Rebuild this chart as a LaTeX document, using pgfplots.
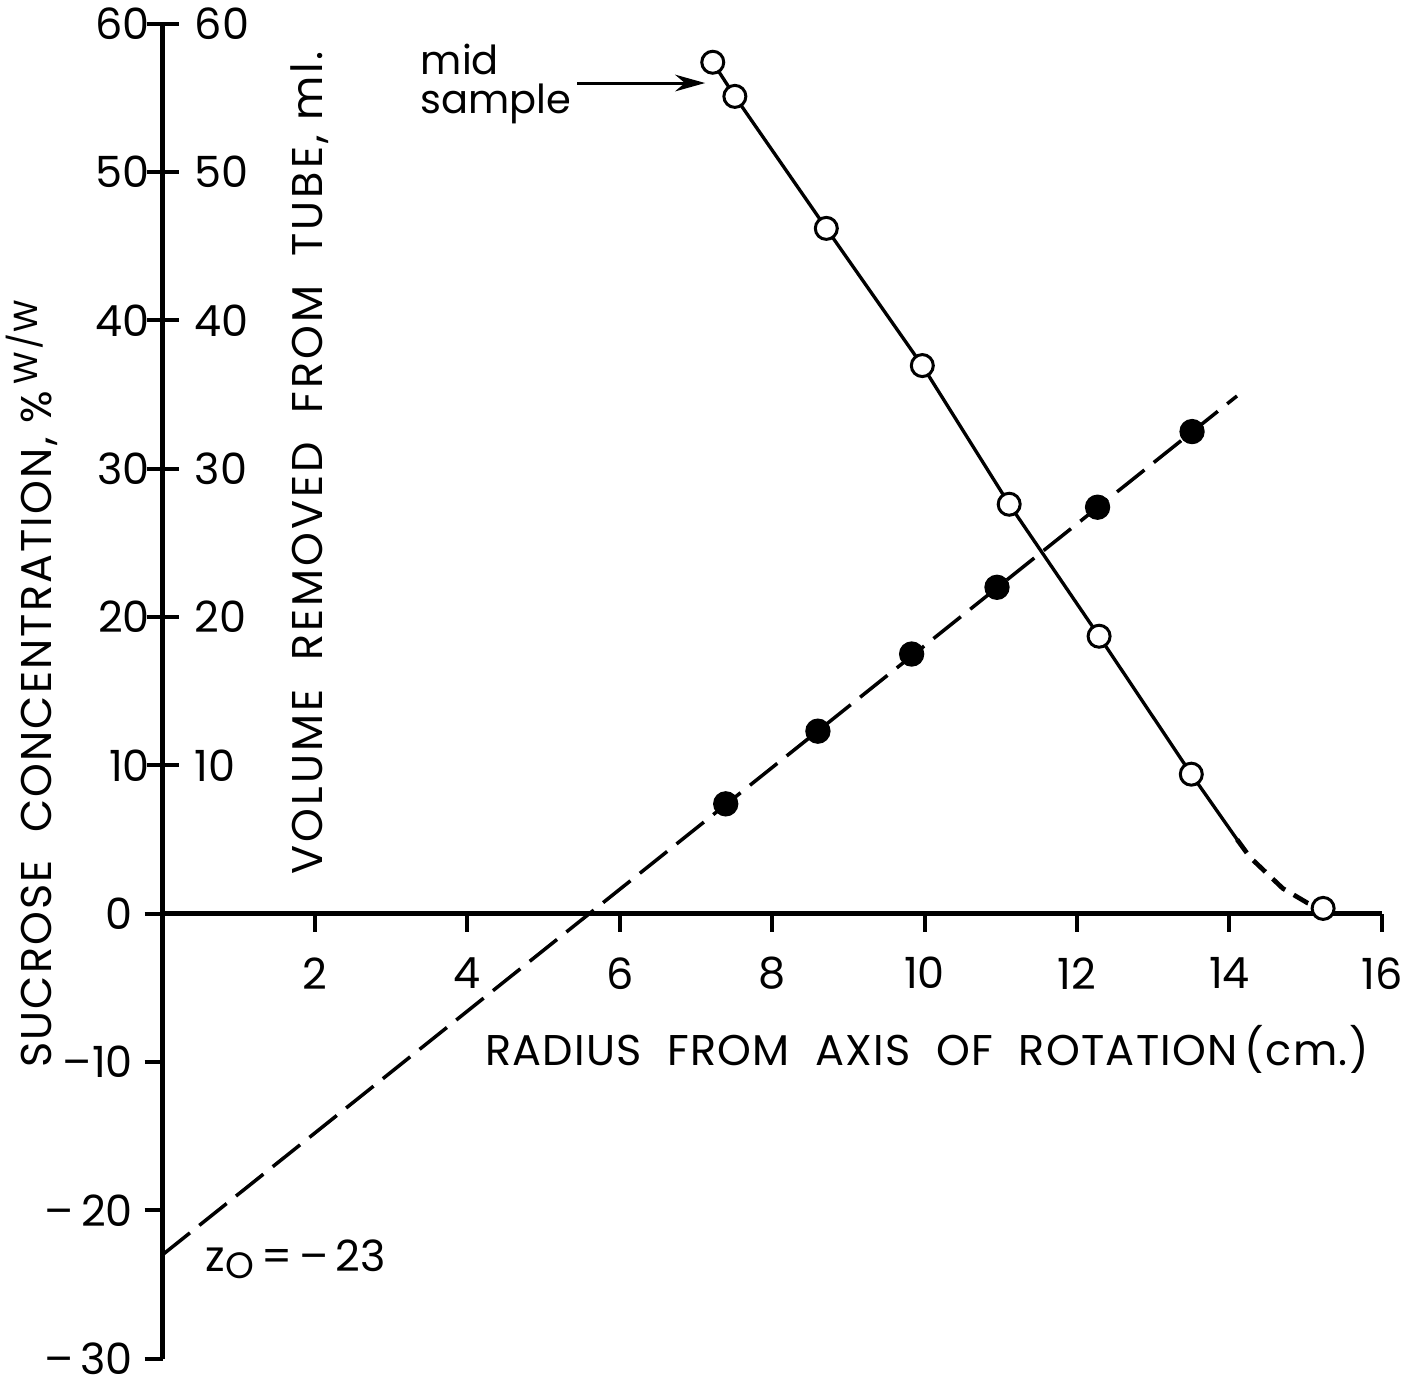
\documentclass[border=0pt]{standalone}
\usepackage{fontspec}
\setmainfont{Poppins}
\usepackage{pgfplots}
\pgfplotsset{compat=1.18}
\usetikzlibrary{arrows.meta}

% sucrose gradient: volume removed (open) and concentration (filled) vs radius
\pgfplotstableread{
r    vol
7.22 57.4
7.51 55.1
8.71 46.2
9.97 36.95
11.11 27.6
12.29 18.7
13.50 9.4
}\volume
\pgfplotstableread{
r    conc
7.39 7.4
8.60 12.3
9.83 17.5
10.95 22.0
12.27 27.4
13.51 32.5
}\conc

\newcommand{\lab}{\fontsize{12.9}{15}\selectfont}
\newfontfamily\spacedA[LetterSpace=3]{Poppins}
\newfontfamily\spacedB[LetterSpace=5]{Poppins}
\newfontfamily\spacedC[LetterSpace=7]{Poppins}

\pgfplotsset{
  frame/.style={
    scale only axis,
    width=365.8pt, height=400.5pt,
    xmin=0, xmax=16, ymin=-30, ymax=60,
    clip=false,
    tick style={line width=1.2pt, black},
  }
}

\begin{document}
\begin{tikzpicture}
\begin{axis}[
  frame,
  axis x line=middle, axis y line=left,
  axis line style={-, line width=1.4pt, black},
  axis on top,
  tick align=outside,
  major tick length=5.4pt,
  xtick={2,4,...,16},
  xticklabels={2,4,6,8,10,12,14,16},
  xticklabel style={font=\lab, yshift=-4.2pt},
  ytick={-30,-20,-10,0},
  yticklabels={{--\,30},{--\,20},{--10},0},
  yticklabel style={font=\lab, inner ysep=0pt},
  extra y ticks={10,20,30,40,50,60},
  extra y tick labels={10,20,30,40,50,60},
  extra y tick style={major tick length=4.8pt, yticklabel style={xshift=4.5pt}},
]
  % volume removed, open circles
  \addplot[black, line width=1pt] coordinates {
    (7.22,57.4) (7.51,55.1) (8.71,46.2) (9.97,36.95) (11.11,27.6)
    (12.29,18.7) (13.50,9.4) (14.10,5.0)
  };
  \addplot[black, line width=1.4pt, dash pattern=on 5pt off 3pt] coordinates {
    (14.10,5.0) (14.27,3.8) (14.70,1.7) (15.03,0.7) (15.23,0.35)
  };
  % concentration, fitted line to z0 = -23
  \addplot[black, line width=1.05pt, dash pattern=on 10.5pt off 3.6pt] coordinates {
    (0,-23) (14.10,34.9)
  };
  \addplot[only marks, mark=*, mark size=3.3pt,
    mark options={fill=white, draw=black, line width=0.9pt}]
    table[x=r, y=vol] {\volume};
  \addplot[only marks, mark=*, mark size=3.3pt,
    mark options={fill=white, draw=black, line width=0.9pt}]
    coordinates {(15.23,0.35)};
  \addplot[only marks, mark=*, mark size=3.6pt,
    mark options={fill=black, draw=black}]
    table[x=r, y=conc] {\conc};

  % right-hand scale labels
  \node[font=\lab, anchor=west] at (axis cs:0.27,10) {10};
  \node[font=\lab, anchor=west] at (axis cs:0.27,20) {20};
  \node[font=\lab, anchor=west] at (axis cs:0.27,30) {30};
  \node[font=\lab, anchor=west] at (axis cs:0.27,40) {40};
  \node[font=\lab, anchor=west] at (axis cs:0.27,50) {50};
  \node[font=\lab, anchor=west] at (axis cs:0.27,60) {60};

  \node[font=\spacedB\lab, rotate=90] at (axis cs:-1.72,15.5)
    {SUCROSE\ \ CONCENTRATION, \%\,\raisebox{0.6ex}{\fontsize{10}{12}\selectfont W/W}};
  \node[font=\spacedC\lab, rotate=90] at (axis cs:1.93,30.4)
    {VOLUME\ \ REMOVED\ \ FROM\ \ TUBE, ml.};
  \node[font=\spacedA\lab] at (axis cs:10.03,-9.17)
    {RADIUS\ \ FROM\ \ AXIS\ \ OF\ \ ROTATION\,(cm.)};

  \node[font=\fontsize{12}{11.7}\selectfont, anchor=north west, align=left,
    inner sep=0pt] at (axis cs:3.38,58.7) {mid\\sample};
  \draw[-{Stealth[length=9pt,width=5pt]}, line width=0.9pt]
    (axis cs:5.44,56.0) -- (axis cs:7.12,56.0);

  \node[font=\lab, anchor=base west, inner sep=0pt] at (axis cs:0.556,-24.1)
    {z\raisebox{-0.3ex}{\fontsize{11}{12}\selectfont O}\,=\,--\,23};

  \coordinate (bbsw) at (axis cs:-2.134,-31.9);
  \coordinate (bbne) at (axis cs:16.37,61.6);
\end{axis}
% right half of the crossing ticks on the positive scale
\begin{axis}[
  frame,
  axis x line=none, axis y line=left,
  y axis line style={draw=none},
  tick align=inside,
  major tick length=4.8pt,
  ytick={10,20,30,40,50,60},
  yticklabels={},
]
\end{axis}
\pgfresetboundingbox
\useasboundingbox (bbsw) rectangle (bbne);
\end{tikzpicture}
\end{document}
